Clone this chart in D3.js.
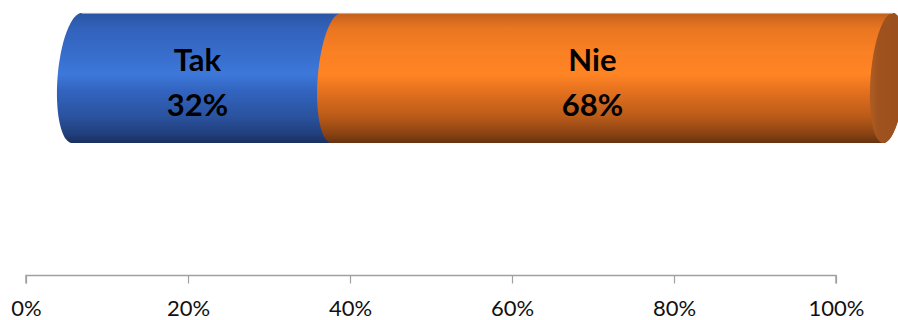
<!DOCTYPE html>
<html>
<head>
<meta charset="utf-8">
<script src="https://cdn.jsdelivr.net/npm/d3@7"></script>
<style>
  html, body { margin: 0; padding: 0; background: #ffffff; }
  svg { display: block; }
</style>
</head>
<body>
<svg id="chart" width="898" height="320"></svg>
<script>
// ---- data ----
const categories = ["Pytanie"];
const seriesNames = ["Tak", "Nie"];
const seriesValues = [0.32, 0.68];
const tickValues = [0, 0.2, 0.4, 0.6, 0.8, 1.0];
const tickLabels = ["0%", "20%", "40%", "60%", "80%", "100%"];

const svg = d3.select("#chart");
const W = 898, H = 320;

// axis (front plane) and bar (3D, shifted back) scales
const xAxisScale = d3.scaleLinear().domain([0, 1]).range([26, 836]);
const xBar = d3.scaleLinear().domain([0, 1]).range([77, 888]);
const xLabel = d3.scaleLinear().domain([0, 1]).range([71, 861]);
const rxScale = d3.scaleLinear().domain([0, 1]).range([19.5, 17.5]);
const yBand = d3.scaleBand().domain(categories).range([13, 143]).padding(0);
const skew = -4.75; // horizontal shift of ellipse bottom relative to its top (half)

const defs = svg.append("defs");
const gradStops = {
  Tak: [
    [0, "#2a55a3"], [0.12, "#3262bb"], [0.3, "#376cca"], [0.47, "#3d78da"],
    [0.6, "#3264bf"], [0.8, "#2a529e"], [0.93, "#213f7c"], [1, "#1a305f"]
  ],
  Nie: [
    [0, "#c2601c"], [0.12, "#ea7621"], [0.3, "#f98023"], [0.47, "#ff8424"],
    [0.6, "#e5711f"], [0.8, "#b95a19"], [0.93, "#8a4313"], [1, "#653210"]
  ]
};
seriesNames.forEach(name => {
  const g = defs.append("linearGradient")
    .attr("id", "grad-" + name)
    .attr("x1", 0).attr("y1", 0).attr("x2", 0).attr("y2", 1);
  gradStops[name].forEach(([o, c]) => g.append("stop").attr("offset", o).attr("stop-color", c));
});
const capGrad = defs.append("linearGradient").attr("id", "grad-cap")
  .attr("x1", 0).attr("y1", 0).attr("x2", 1).attr("y2", 0);
capGrad.append("stop").attr("offset", 0).attr("stop-color", "#b05d22");
capGrad.append("stop").attr("offset", 0.25).attr("stop-color", "#9f521e");
capGrad.append("stop").attr("offset", 1).attr("stop-color", "#9a4f1d");

const cy = yBand(categories[0]) + yBand.bandwidth() / 2;
const ry = yBand.bandwidth() / 2;

function ellPoint(v, t) {
  const cx = xBar(v), rx = rxScale(v);
  return [cx + rx * Math.cos(t) + skew * Math.sin(t), cy + ry * Math.sin(t)];
}
function arcPoints(v, t0, t1, n) {
  const pts = [];
  for (let i = 0; i <= n; i++) pts.push(ellPoint(v, t0 + (t1 - t0) * i / n));
  return pts;
}

// stacked segments
let acc = 0;
const segs = seriesNames.map((name, i) => {
  const s = { name, value: seriesValues[i], x0: acc, x1: acc + seriesValues[i] };
  acc += seriesValues[i];
  return s;
});

const line = d3.line();
segs.forEach(s => {
  // left half from top (-pi/2) through left (pi) to bottom (pi/2)
  const left = arcPoints(s.x0, -Math.PI / 2, -3 * Math.PI / 2, 60);
  // right half from bottom (pi/2) through right (0) to top (-pi/2)
  const right = arcPoints(s.x1, Math.PI / 2, -Math.PI / 2, 60);
  const pts = left.concat(right);
  svg.append("path")
    .attr("d", line(pts) + "Z")
    .attr("fill", `url(#grad-${s.name})`);
});

// end cap
const last = segs[segs.length - 1];
svg.append("path")
  .attr("d", line(arcPoints(last.x1, 0, 2 * Math.PI, 120)) + "Z")
  .attr("fill", "url(#grad-cap)");

// faint top rim line
svg.append("line")
  .attr("x1", ellPoint(0, -Math.PI / 2)[0]).attr("x2", ellPoint(1, -Math.PI / 2)[0])
  .attr("y1", cy - ry + 0.3).attr("y2", cy - ry + 0.3)
  .attr("stroke", "#d9d2cc").attr("stroke-width", 0.8);

// labels
segs.forEach(s => {
  const lx = xLabel((s.x0 + s.x1) / 2);
  const t = svg.append("text")
    .attr("x", lx)
    .attr("text-anchor", "middle")
    .attr("font-family", "Lato, 'Open Sans', sans-serif")
    .attr("font-weight", "bold")
    .attr("font-size", 31)
    .attr("fill", "#000");
  t.append("tspan").attr("x", lx).attr("y", 71).text(s.name);
  t.append("tspan").attr("x", lx).attr("y", 116).text(Math.round(s.value * 100) + "%");
});

// axis
const axis = d3.axisBottom(xAxisScale)
  .tickValues(tickValues)
  .tickFormat((d, i) => tickLabels[i])
  .tickSize(8)
  .tickPadding(17);
const gAxis = svg.append("g").attr("transform", "translate(0,275.5)").call(axis);
gAxis.select(".domain").attr("stroke", "#a0a0a0").attr("stroke-width", 1.5)
  .attr("d", `M${xAxisScale(0)},8V0H${xAxisScale(1)}V8`);
gAxis.selectAll(".tick line").attr("stroke", "#a0a0a0").attr("stroke-width", 1.2);
gAxis.selectAll(".tick text")
  .attr("font-family", "Lato, 'Open Sans', sans-serif")
  .attr("font-size", 22)
  .attr("fill", "#111");
</script>
</body>
</html>
